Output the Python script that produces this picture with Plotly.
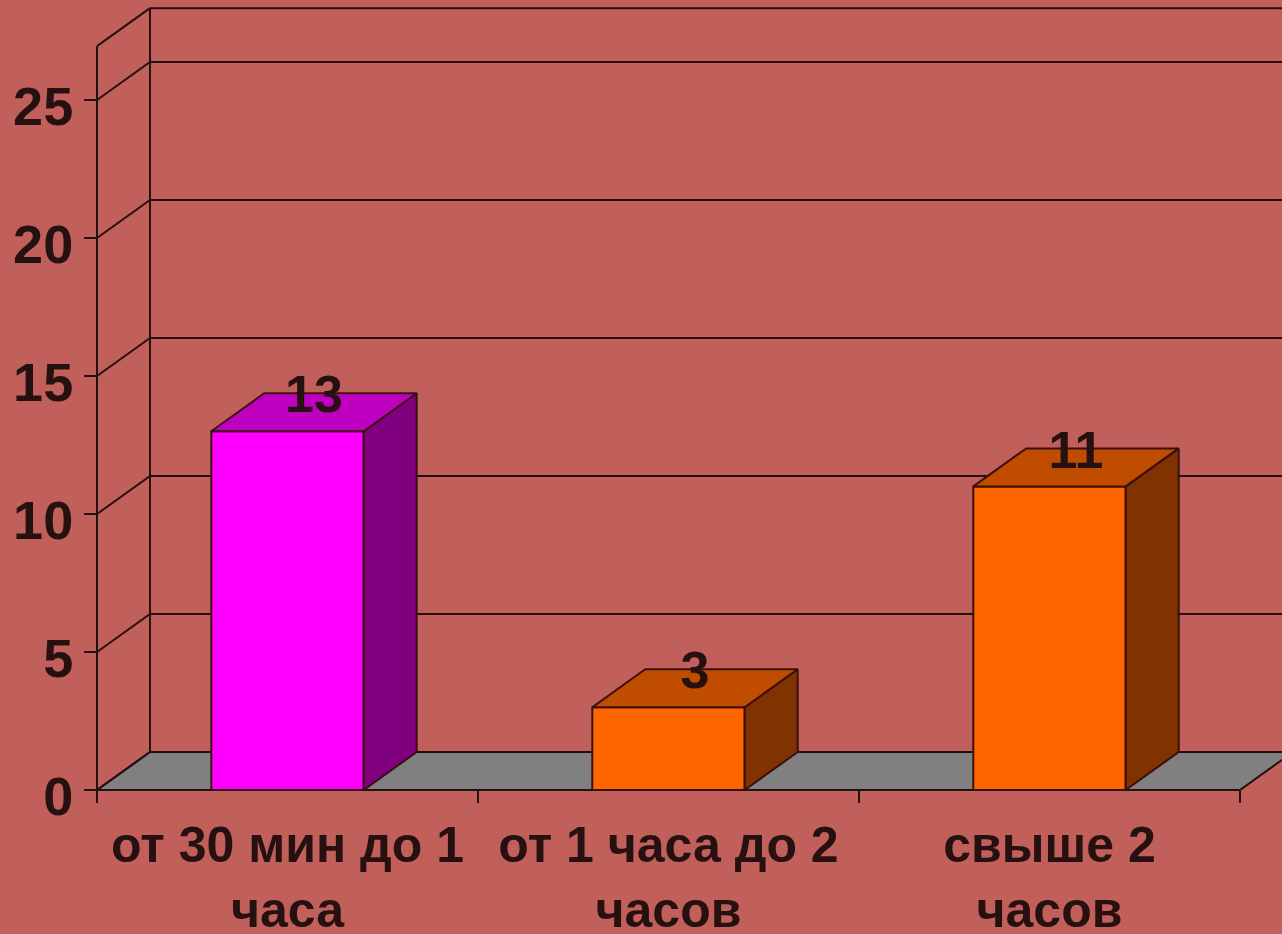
import plotly.graph_objects as go

# ---------------- data ----------------
categories = ["от 30 мин до 1<br>часа", "от 1 часа до 2<br>часов", "свыше 2<br>часов"]
values = [13, 3, 11]
y_ticks = [0, 5, 10, 15, 20, 25]
y_tick_labels = ["0", "5", "10", "15", "20", "25"]

# ---------------- style ----------------
front_colors = ["#FF00FF", "#FF6600", "#FF6600"]
side_colors = ["#800080", "#803300", "#803300"]
top_colors = ["#C000C0", "#C04C00", "#C04C00"]
BG = "#C1605A"
FLOOR = "#808080"
LINE = "#241010"
EDGE = "#3a0f0f"
TEXT = "#261010"
FONT = "Liberation Sans, Arial, sans-serif"

# ---------------- geometry (pixel calibration) ----------------
W, H = 1282, 934
PX_X0, CAT_W = 97, 381.0      # left edge of category axis, width of one category
PX_Y0, UNIT = 790, 27.6       # pixel of value 0, pixels per value unit
DX = 53 / CAT_W               # depth offset in category units
DY = 38 / UNIT                # depth offset in value units
WALL_TOP = 26.95
BAR_W = 0.4
n = len(categories)
X_LO, X_HI = -0.5, n - 0.5

x_range = [(0 - (PX_X0 + CAT_W / 2)) / CAT_W, (W - (PX_X0 + CAT_W / 2)) / CAT_W]
y_range = [(PX_Y0 - H) / UNIT, PX_Y0 / UNIT]

fig = go.Figure()

# floor
fig.add_trace(go.Scatter(
    x=[X_LO, X_HI, X_HI + DX, X_LO + DX, X_LO],
    y=[0, 0, DY, DY, 0],
    fill="toself", fillcolor=FLOOR, mode="lines",
    line=dict(color=LINE, width=2), hoverinfo="skip", showlegend=False))

# back wall grid + edges
levels = y_ticks + [WALL_TOP]
bx, by = [], []
for lv in levels:
    bx += [X_LO + DX, X_HI + DX, None]
    by += [lv + DY, lv + DY, None]
bx += [X_LO + DX, X_LO + DX, None]
by += [DY, WALL_TOP + DY, None]
# side wall diagonals
for lv in levels:
    bx += [X_LO, X_LO + DX, None]
    by += [lv, lv + DY, None]
# front value axis line and category axis line
bx += [X_LO, X_LO, None, X_LO, X_HI, None]
by += [0, WALL_TOP, None, 0, 0, None]
fig.add_trace(go.Scatter(x=bx, y=by, mode="lines", line=dict(color=LINE, width=2),
                         hoverinfo="skip", showlegend=False))

# front faces (on overlay axes so they sit above the wall grid)
fig.add_trace(go.Bar(
    x=list(range(n)), y=values, width=BAR_W, xaxis="x2", yaxis="y2",
    marker=dict(color=front_colors, line=dict(color=EDGE, width=2)),
    hoverinfo="skip", showlegend=False))

# side and top faces of bars
for i, v in enumerate(values):
    xr = i + BAR_W / 2
    xl = i - BAR_W / 2
    fig.add_trace(go.Scatter(
        x=[xr, xr + DX, xr + DX, xr, xr], y=[0, DY, v + DY, v, 0],
        xaxis="x2", yaxis="y2",
        fill="toself", fillcolor=side_colors[i], mode="lines",
        line=dict(color=EDGE, width=2), hoverinfo="skip", showlegend=False))
    fig.add_trace(go.Scatter(
        x=[xl, xr, xr + DX, xl + DX, xl], y=[v, v, v + DY, v + DY, v],
        xaxis="x2", yaxis="y2",
        fill="toself", fillcolor=top_colors[i], mode="lines",
        line=dict(color=EDGE, width=2), hoverinfo="skip", showlegend=False))

# data labels
fig.add_trace(go.Scatter(
    x=[i + DX / 2 for i in range(n)], y=[v + 1.15 for v in values],
    xaxis="x2", yaxis="y2",
    mode="text", text=[str(v) for v in values], textposition="middle center",
    textfont=dict(family=FONT, size=52, color=TEXT, weight="bold"),
    hoverinfo="skip", showlegend=False, cliponaxis=False))

hidden = dict(visible=False, showgrid=False, zeroline=False, fixedrange=True)

fig.update_layout(
    width=W, height=H,
    margin=dict(l=0, r=0, t=0, b=0),
    paper_bgcolor=BG, plot_bgcolor=BG,
    showlegend=False,
    xaxis=dict(
        range=x_range, showgrid=False, zeroline=False, showline=False,
        anchor="free", position=(H - PX_Y0) / H,
        tickmode="array", tickvals=list(range(n)), ticktext=categories,
        ticks="", ticklabelstandoff=21,
        tickfont=dict(family=FONT, size=50, color=TEXT, weight="bold"),
        minor=dict(tickmode="array", tickvals=[k - 0.5 for k in range(n + 1)],
                   ticks="outside", ticklen=12, tickwidth=2, tickcolor=LINE),
        automargin=False, fixedrange=True),
    yaxis=dict(
        range=y_range, showgrid=False, zeroline=False, showline=False,
        anchor="free", position=PX_X0 / W, side="left",
        tickmode="array", tickvals=y_ticks, ticktext=y_tick_labels,
        ticks="outside", ticklen=13, tickwidth=2, tickcolor=LINE,
        ticklabelshift=6,
        tickfont=dict(family=FONT, size=54, color=TEXT, weight="bold"),
        automargin=False, fixedrange=True),
    xaxis2=dict(range=x_range, overlaying="x", anchor="y2", **hidden),
    yaxis2=dict(range=y_range, overlaying="y", anchor="x2", **hidden),
)

fig.write_html(
    "out.html",
    config={"displayModeBar": False},
    post_script="document.body.style.margin='0';document.body.style.overflow='hidden';")
